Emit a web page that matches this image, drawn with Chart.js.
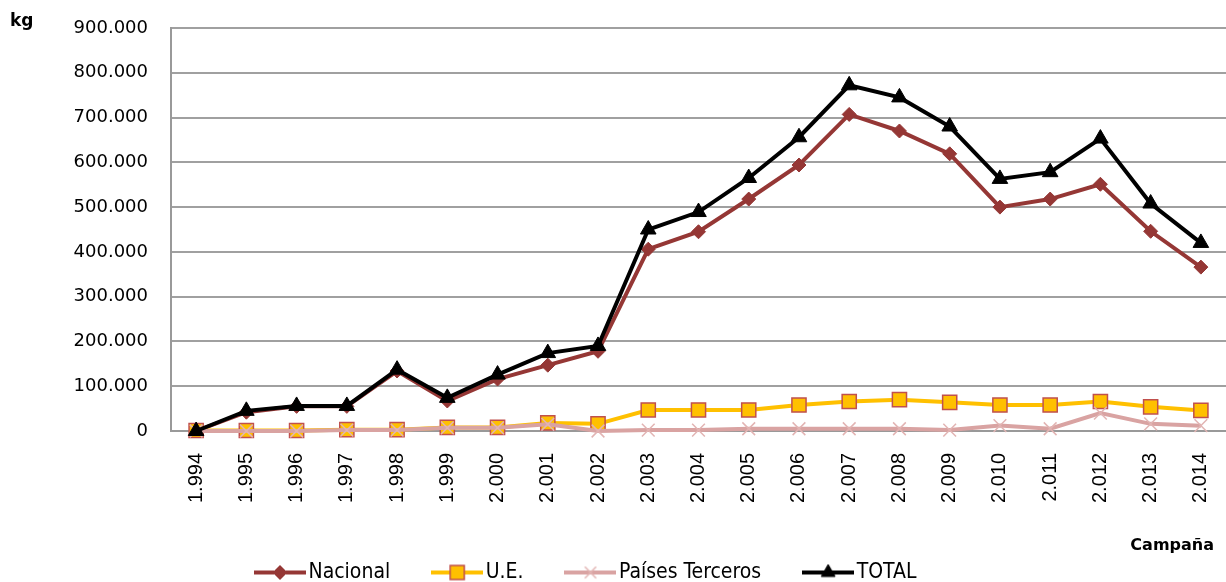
<!DOCTYPE html>
<html>
<head>
<meta charset="utf-8">
<script src="https://cdn.jsdelivr.net/npm/chart.js@4"></script>
<style>
  html, body { margin: 0; background: #fff; overflow: hidden; }
  #wrap { width: 1226px; height: 582px; }
  canvas { display: block; }
</style>
</head>
<body>
<div id="wrap"><canvas id="kgChart"></canvas></div>
<script>
// Campañas (eje X) y kg por origen
let campanas = ['1.994', '1.995', '1.996', '1.997', '1.998', '1.999', '2.000', '2.001', '2.002', '2.003',
    '2.004', '2.005', '2.006', '2.007', '2.008', '2.009', '2.010', '2.011', '2.012', '2.013', '2.014'];
let nacional = [0, 42000, 55000, 55000, 134000, 67000, 116000, 147000, 178000, 406000,
    445000, 518000, 594000, 707000, 670000, 619000, 500000, 518000, 551000, 446000, 366000];
let ue = [1000, 1000, 1000, 3000, 3000, 8000, 8000, 18000, 16000, 47000,
    47000, 47000, 58000, 66000, 70000, 64000, 58000, 58000, 66000, 54000, 46000];
let terceros = [0, 0, 0, 2000, 2000, 7000, 7000, 15000, 0, 2000,
    2000, 5000, 5000, 5000, 5000, 2000, 12000, 5000, 40000, 16000, 12000];
let total = [0, 45000, 56000, 56000, 137000, 74000, 126000, 174000, 190000, 450000,
    489000, 565000, 656000, 772000, 745000, 680000, 563000, 578000, 653000, 508000, 420000];
let yTicks = [0, 100000, 200000, 300000, 400000, 500000, 600000, 700000, 800000, 900000];

function miles(v) {
    return String(v).replace(/\B(?=(\d{3})+(?!\d))/g, '.');
}

// icono de leyenda: linea + marcador
function legendIcon(lineColor, style, fill, stroke, radius, bw) {
    let c = document.createElement('canvas');
    c.width = 52;
    c.height = 22;
    let ctx = c.getContext('2d');
    ctx.strokeStyle = lineColor;
    ctx.lineWidth = 4;
    ctx.beginPath();
    ctx.moveTo(0, 11);
    ctx.lineTo(52, 11);
    ctx.stroke();
    ctx.fillStyle = fill;
    ctx.strokeStyle = stroke;
    ctx.lineWidth = bw;
    Chart.helpers.drawPoint(ctx, {pointStyle: style, radius: radius, borderWidth: bw}, 26, 11);
    return c;
}

let textosPlugin = {
    id: 'textos',
    afterLayout: function (chart) {
        // desplazar la leyenda como en el original
        chart.legend.left = 213;
    },
    afterDraw: function (chart) {
        let ctx = chart.ctx;
        ctx.save();
        ctx.fillStyle = '#000';
        ctx.font = 'bold 17px "DejaVu Sans"';
        ctx.textBaseline = 'middle';
        ctx.textAlign = 'left';
        ctx.fillText('kg', 10, 22);
        ctx.font = 'bold 16px "DejaVu Sans"';
        ctx.textAlign = 'right';
        ctx.fillText('Campaña', 1214, 546);
        ctx.restore();
    }
};

let icons = [
    legendIcon('#953735', 'rectRot', '#953735', '#953735', 7, 1),
    legendIcon('#FFC000', 'rect', '#FFC000', '#C0504D', 10, 1.5),
    legendIcon('#D9A3A2', 'crossRot', '#D9A3A2', '#E2B4B3', 8, 1.5),
    legendIcon('#000000', 'triangle', '#000000', '#000000', 8, 1)
];

let myChart = new Chart(document.getElementById('kgChart'), {
    type: 'line',
    data: {
        labels: campanas,
        datasets: [{
            label: 'Nacional',
            data: nacional,
            borderColor: '#953735',
            backgroundColor: '#953735',
            borderWidth: 4,
            pointStyle: 'rectRot',
            pointRadius: 7,
            pointBorderWidth: 1,
            order: 3
        }, {
            label: 'U.E.',
            data: ue,
            borderColor: '#FFC000',
            backgroundColor: '#FFC000',
            pointBorderColor: '#C0504D',
            borderWidth: 4,
            pointStyle: 'rect',
            pointRadius: 10,
            pointBorderWidth: 1.5,
            order: 2
        }, {
            label: 'Países Terceros',
            data: terceros,
            borderColor: '#D9A3A2',
            backgroundColor: '#D9A3A2',
            pointBorderColor: '#E2B4B3',
            borderWidth: 4,
            pointStyle: 'crossRot',
            pointRadius: 9,
            pointBorderWidth: 1.5,
            order: 1
        }, {
            label: 'TOTAL',
            data: total,
            borderColor: '#000000',
            backgroundColor: '#000000',
            borderWidth: 4,
            pointStyle: 'triangle',
            pointRadius: 9,
            pointBorderWidth: 1,
            order: 0
        }]
    },
    options: {
        responsive: true,
        maintainAspectRatio: false,
        animation: false,
        clip: false,
        elements: {line: {tension: 0}},
        layout: {autoPadding: false, padding: {top: 28, right: 0, left: 0, bottom: -11}},
        scales: {
            x: {
                offset: true,
                grid: {display: false, drawTicks: false},
                border: {display: true, color: '#999999', width: 2},
                ticks: {
                    minRotation: 90,
                    maxRotation: 90,
                    autoSkip: false,
                    padding: 22,
                    color: '#000',
                    font: {family: '"Liberation Sans", Arial', size: 20}
                },
                afterFit: function (scale) {
                    scale.height = 82;
                    scale.paddingLeft = 0;
                    scale.paddingRight = 0;
                }
            },
            y: {
                min: 0,
                max: 900000,
                afterBuildTicks: function (scale) {
                    scale.ticks = yTicks.map(v => ({value: v}));
                },
                grid: {color: '#A0A0A0', lineWidth: 2, drawTicks: false},
                border: {display: true, color: '#999999', width: 2},
                ticks: {
                    padding: 23,
                    color: '#000',
                    font: {family: '"DejaVu Sans"', size: 18},
                    callback: function (v) { return miles(v); }
                },
                afterFit: function (scale) {
                    scale.width = 171;
                    scale.paddingTop = 0;
                    scale.paddingBottom = 0;
                }
            }
        },
        plugins: {
            legend: {
                position: 'bottom',
                align: 'start',
                labels: {
                    usePointStyle: true,
                    pointStyleWidth: 36,
                    padding: 49,
                    color: '#000',
                    font: {family: '"DejaVu Sans Condensed", "DejaVu Sans"', size: 21},
                    sort: function (a, b) { return a.datasetIndex - b.datasetIndex; },
                    generateLabels: function (chart) {
                        return chart.data.datasets.map(function (ds, i) {
                            return {
                                text: ds.label,
                                pointStyle: icons[i],
                                fillStyle: ds.backgroundColor,
                                strokeStyle: ds.borderColor,
                                lineWidth: 0,
                                hidden: false,
                                datasetIndex: i,
                                fontColor: '#000'
                            };
                        });
                    }
                }
            },
            tooltip: {enabled: false}
        }
    },
    plugins: [textosPlugin]
});
</script>
</body>
</html>
